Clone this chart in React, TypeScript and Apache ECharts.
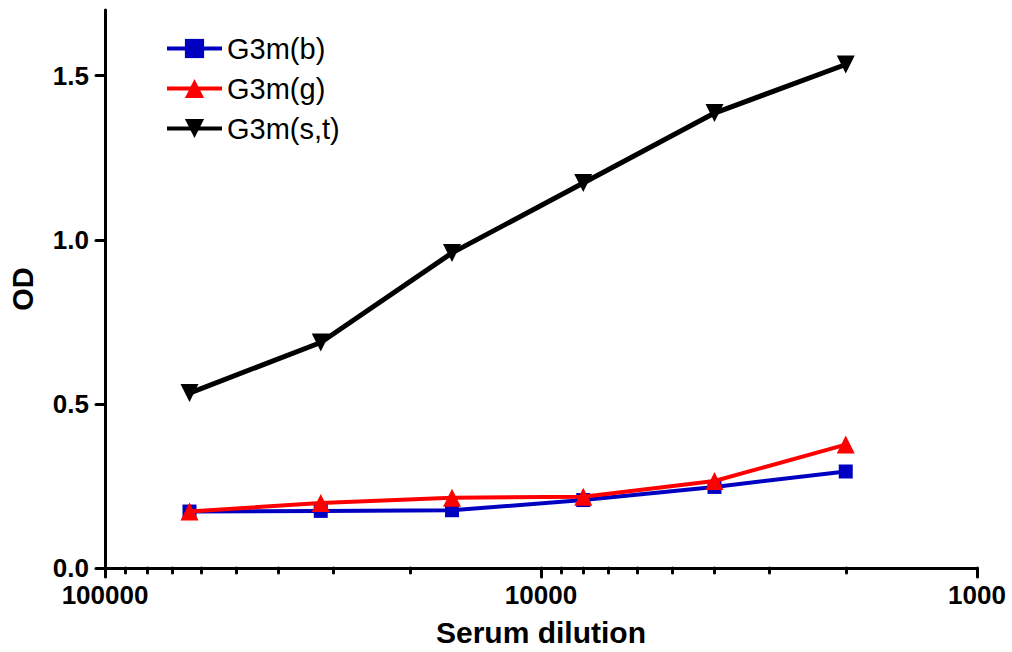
import React, { useEffect, useRef } from "react";
import * as echarts from "echarts";

const dilutions = [64000, 32000, 16000, 8000, 4000, 2000];
const g3mB = [0.172, 0.174, 0.176, 0.207, 0.247, 0.294];
const g3mG = [0.172, 0.198, 0.214, 0.217, 0.265, 0.376];
const g3mST = [0.533, 0.687, 0.96, 1.173, 1.386, 1.534];

const xMajorTicks = [1000, 10000, 100000];
const xMinorTicks = [
  2000, 3000, 4000, 5000, 6000, 7000, 8000, 9000,
  20000, 30000, 40000, 50000, 60000, 70000, 80000, 90000,
];
const yTicks = [0, 0.5, 1.0, 1.5];

const FONT = "'Liberation Sans', Arial, Helvetica, sans-serif";

export default function App() {
  const ref = useRef<HTMLDivElement>(null);
  useEffect(() => {
    if (!ref.current) return;
    const chart = echarts.init(ref.current, null, { renderer: "svg" });
    const pair = (ys: number[]) => dilutions.map((d, i) => [d, ys[i]]);
    chart.setOption({
      animation: false,
      backgroundColor: "#ffffff",
      textStyle: { fontFamily: FONT },
      grid: { left: 105, right: 35, top: 10, bottom: 83, containLabel: false },
      legend: {
        orient: "vertical",
        left: 160,
        top: 29,
        itemWidth: 55,
        itemHeight: 24,
        itemGap: 11,
        lineStyle: { width: 4 },
        textStyle: { fontSize: 29, color: "#000", fontFamily: FONT },
        data: ["G3m(b)", "G3m(g)", "G3m(s,t)"],
      },
      xAxis: [
        {
          type: "log",
          logBase: 10,
          min: 1000,
          max: 100000,
          inverse: true,
          position: "bottom",
          name: "Serum dilution",
          nameLocation: "middle",
          nameGap: 49,
          nameTextStyle: { fontSize: 30, fontWeight: "bold", color: "#000", fontFamily: FONT },
          axisLine: { show: true, lineStyle: { color: "#000", width: 3 } },
          axisTick: { show: true, length: 9, customValues: xMajorTicks, lineStyle: { color: "#000", width: 3, cap: "round" } },
          axisLabel: {
            show: true,
            margin: 14,
            fontSize: 26,
            fontWeight: "bold",
            color: "#000",
            fontFamily: FONT,
            customValues: xMajorTicks,
            formatter: (v: number) => String(Math.round(v)),
          },
          splitLine: { show: false },
          minorTick: { show: false },
        },
        {
          type: "log",
          logBase: 10,
          min: 1000,
          max: 100000,
          inverse: true,
          position: "bottom",
          gridIndex: 0,
          axisLine: { show: false },
          axisTick: { show: true, length: 5, customValues: xMinorTicks, lineStyle: { color: "#000", width: 3, cap: "round" } },
          axisLabel: { show: false },
          splitLine: { show: false },
        },
      ],
      yAxis: {
        type: "value",
        min: 0,
        max: 1.7,
        interval: 0.5,
        name: "OD",
        nameLocation: "middle",
        nameRotate: 90,
        nameGap: 68,
        nameTextStyle: { fontSize: 29, fontWeight: "bold", color: "#000", fontFamily: FONT },
        axisLine: { show: true, lineStyle: { color: "#000", width: 3 } },
        axisTick: { show: true, length: 9, customValues: yTicks, lineStyle: { color: "#000", width: 3, cap: "round" } },
        axisLabel: {
          margin: 16,
          fontSize: 26,
          fontWeight: "bold",
          color: "#000",
          fontFamily: FONT,
          customValues: yTicks,
          formatter: (v: number) => v.toFixed(1),
        },
        splitLine: { show: false },
      },
      series: [
        {
          name: "G3m(b)",
          type: "line",
          data: pair(g3mB),
          symbol: "rect",
          symbolSize: 14,
          lineStyle: { color: "#0000c0", width: 4 },
          itemStyle: { color: "#0000c0" },
          z: 2,
        },
        {
          name: "G3m(g)",
          type: "line",
          data: pair(g3mG),
          symbol: "triangle",
          symbolSize: 18,
          lineStyle: { color: "#ff0000", width: 4 },
          itemStyle: { color: "#ff0000" },
          z: 3,
        },
        {
          name: "G3m(s,t)",
          type: "line",
          data: pair(g3mST),
          symbol: "triangle",
          symbolRotate: 180,
          symbolSize: 18,
          lineStyle: { color: "#000000", width: 5 },
          itemStyle: { color: "#000000" },
          z: 4,
        },
      ],
    });
    return () => chart.dispose();
  }, []);
  return <div ref={ref} style={{ width: 1012, height: 652, position: "absolute", left: 0, top: 0 }} />;
}
